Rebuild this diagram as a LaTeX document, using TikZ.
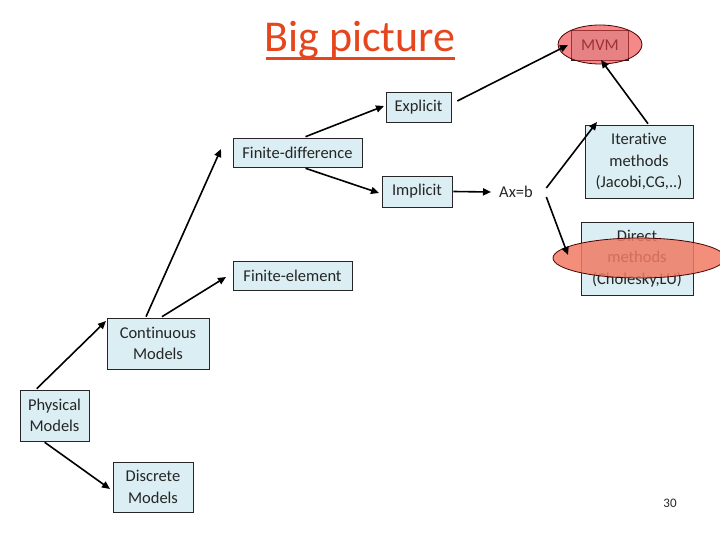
\documentclass[tikz,border=0pt]{standalone}
\usepackage{fontspec}
\setmainfont{Carlito}[Ligatures=CommonOff]
\usetikzlibrary{shapes.geometric,arrows.meta}
\definecolor{boxfill}{HTML}{DAEEF3}
\definecolor{titlered}{HTML}{E5461E}
\definecolor{ellred}{HTML}{EE3B3B}
\definecolor{ellsalmon}{HTML}{F07A62}
\tikzset{
  box/.style={draw=black!85, line width=0.6pt, fill=boxfill, inner sep=0pt, align=center, font=\fontsize{16.5}{21.5}\selectfont, text=black!85},
  conn/.style={line width=1.6pt, -{Triangle[length=8pt,width=7pt]}},
  hilite/.style={ellipse, draw=black!70!red, line width=0.8pt, inner sep=0pt}
}
\begin{document}
\begin{tikzpicture}[x=1pt,y=-1pt]
\useasboundingbox (0,0) rectangle (720,540);
% title
\node (title) at (360,40) {\fontsize{44}{48}\selectfont\color{titlered}Big picture};
\draw[titlered, line width=2.2pt] (266,58.5) -- (455,58.5);
% boxes
\node[box, minimum width=57pt, minimum height=30pt] (mvm) at (600,45) {MVM};
\node[box, minimum width=65pt, minimum height=30pt] (explicit) at (418.5,107) {Explicit};
\node[box, minimum width=129pt, minimum height=29pt] (fdiff) at (297.5,152.5) {Finite-difference};
\node[box, minimum width=70pt, minimum height=31pt] (implicit) at (417,191.5) {Implicit};
\node[font=\fontsize{16.5}{18}\selectfont, text=black!85] (axb) at (516,192) {Ax=b};
\node[box, minimum width=108pt, minimum height=73pt] (iter) at (639,161.5) {Iterative\\methods\\(Jacobi,CG,..)};
\node[box, minimum width=112pt, minimum height=73pt] (direct) at (637,258.5) {Direct\\methods\\(Cholesky,LU)};
\node[box, minimum width=119pt, minimum height=29pt] (felem) at (292.5,275.5) {Finite-element};
\node[box, minimum width=102pt, minimum height=51pt] (cont) at (158,343.5) {Continuous\\Models};
\node[box, minimum width=69pt, minimum height=51pt] (phys) at (54.5,415.5) {Physical\\Models};
\node[box, minimum width=80pt, minimum height=50pt] (disc) at (153,487) {Discrete\\Models};
\node[font=\fontsize{13}{15}\selectfont, text=black!85] (pagenum) at (670,503) {30};
% highlight ellipses
\node[hilite, fill=ellred, fill opacity=0.6, minimum width=84pt, minimum height=39pt] (mvmell) at (600,44.5) {};
\node[hilite, fill=ellsalmon, fill opacity=0.85, minimum width=172pt, minimum height=40pt] (direll) at (639,258) {};
% connectors
\draw[conn] (phys.north west) ++(17,-1) -- (106,321);
\draw[conn] (phys.south west) ++(25,1) -- (110,489);
\draw[conn] (cont.north) ++(-12,-1) -- (221,149);
\draw[conn] (cont.north) ++(4,-1) -- (226,277);
\draw[conn] (fdiff.north) ++(8,-1) -- (384,106);
\draw[conn] (fdiff.south) ++(8,1) -- (379,193);
\draw[conn] (implicit.east) ++(1,0) -- (491,192);
\draw[conn] (axb.east) ++(10,-4) -- (597,122);
\draw[conn] (axb.east) ++(10,5) -- (568,255);
\draw[conn] (explicit.east) ++(6,-6) -- (568,45);
\draw[conn] (iter.north) ++(9,-1) -- (601,60);
\end{tikzpicture}
\end{document}
